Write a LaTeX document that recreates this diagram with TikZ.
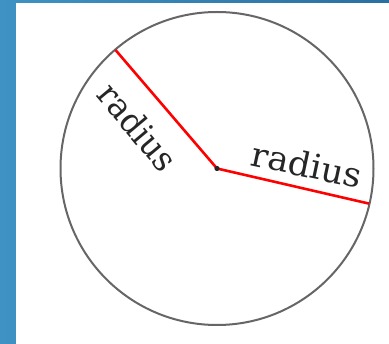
\documentclass[tikz,border=0pt]{standalone}
\usepackage{fontspec}
\setmainfont{DejaVu Serif}
\definecolor{bgleft}{HTML}{3E93C4}
\definecolor{bgright}{HTML}{2A70A0}
\definecolor{rimgray}{HTML}{666666}
\tikzset{
  rim/.style={draw=rimgray, line width=2pt},
  radiusline/.style={draw=red, line width=2.6pt},
  lbl/.style={font=\fontsize{34}{34}\selectfont, inner sep=0pt, text=black!85}
}
\begin{document}
\begin{tikzpicture}[x=1pt,y=-1pt]
  \useasboundingbox (0,0) rectangle (389,344);
  \shade[left color=bgleft, right color=bgright] (0,0) rectangle (389,344);
  \fill[white] (16,3) rectangle (389,344);
  \coordinate (c) at (217,168.5);
  \draw[rim] (c) circle (156.5);
  \coordinate (p1) at (115.5,50);
  \coordinate (p2) at (369,203.6);
  \draw[radiusline] (c) -- (p1);
  \draw[radiusline] (c) -- (p2);
  \fill[black!85] (c) circle (2.6);
  \node[lbl, rotate=-50, xscale=0.95] (l1) at (138,127) {radius};
  \node[lbl, rotate=-12, xscale=1.03] (l2) at (307,164.5) {radius};
\end{tikzpicture}
\end{document}
